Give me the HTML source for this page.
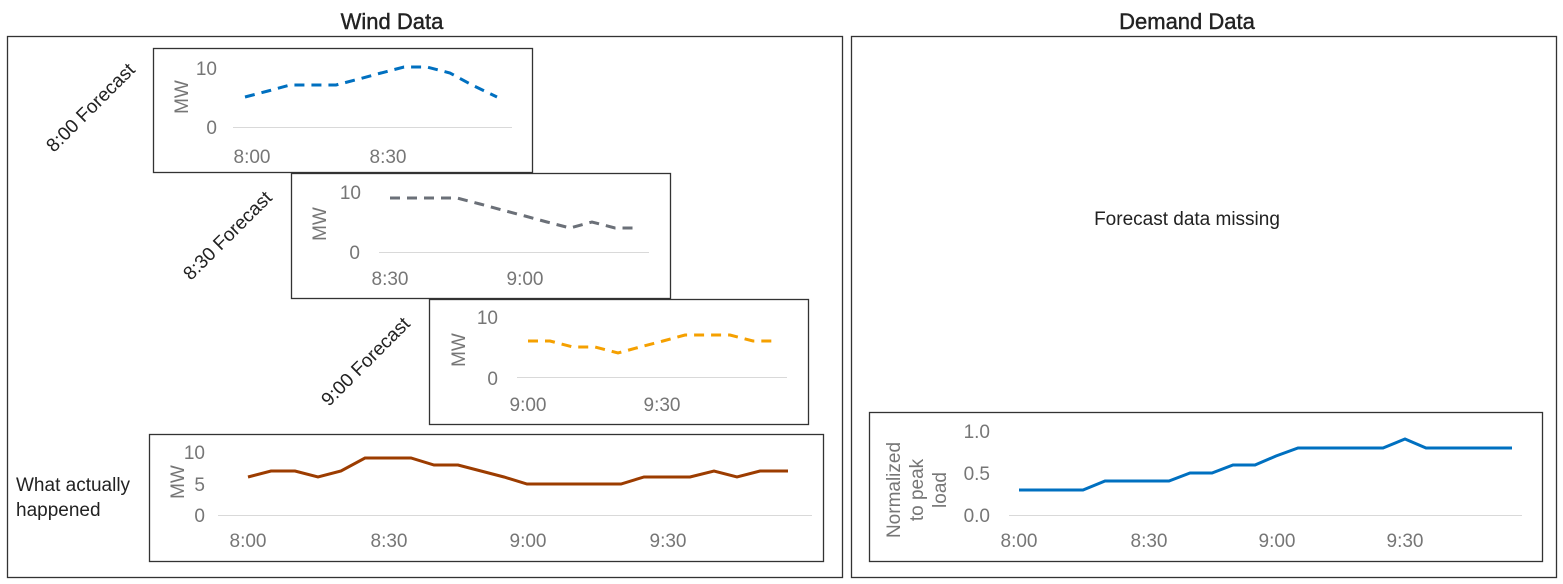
<!DOCTYPE html>
<html><head><meta charset="utf-8"><style>
html,body{margin:0;padding:0;background:#fff}
svg{display:block;font-family:"Liberation Sans",sans-serif}
.t{fill:#767676;font-size:19px}
.b{fill:#fff;stroke:#333;stroke-width:1.3}
.g{stroke:#d9d9d9;stroke-width:1}
</style></head><body>
<svg width="1563" height="584" viewBox="0 0 1563 584">
<text x="392" y="29" font-size="22" text-anchor="middle" fill="#222" stroke="#222" stroke-width="0.4">Wind Data</text>
<text x="1187" y="29" font-size="22" text-anchor="middle" fill="#222" stroke="#222" stroke-width="0.4">Demand Data</text>
<rect x="7.5" y="36.5" width="835" height="541" class="b"/>
<rect x="851.5" y="36.5" width="705" height="541" class="b"/>

<!-- chart1 -->
<rect x="153.5" y="48.5" width="379" height="124" class="b"/>
<line x1="233" y1="127.5" x2="512" y2="127.5" class="g"/>
<text x="217" y="75" class="t" text-anchor="end">10</text>
<text x="217" y="134" class="t" text-anchor="end">0</text>
<text x="188" y="97" class="t" text-anchor="middle" transform="rotate(-90 188 97)">MW</text>
<text x="252" y="163" class="t" text-anchor="middle">8:00</text>
<text x="388" y="163" class="t" text-anchor="middle">8:30</text>
<polyline fill="none" stroke="#0070c0" stroke-width="3" stroke-dasharray="10,7" points="245,97 268,91 290,85 313,85 336,85 359,79 381,73 404,67 427,67 450,73 472,85 497,97"/>
<text x="95" y="112" font-size="19" fill="#222" text-anchor="middle" transform="rotate(-45 95 112)">8:00 Forecast</text>

<!-- chart2 -->
<rect x="291.5" y="173.5" width="379" height="125" class="b"/>
<line x1="379" y1="252.5" x2="649" y2="252.5" class="g"/>
<text x="361" y="199" class="t" text-anchor="end">10</text>
<text x="360" y="259" class="t" text-anchor="end">0</text>
<text x="326" y="224" class="t" text-anchor="middle" transform="rotate(-90 326 224)">MW</text>
<text x="390" y="285" class="t" text-anchor="middle">8:30</text>
<text x="525" y="285" class="t" text-anchor="middle">9:00</text>
<polyline fill="none" stroke="#6b7078" stroke-width="3" stroke-dasharray="10,7" points="390,198 412,198 435,198 457,198 480,204 502,210 525,216 547,222 570,228 592,222 615,228 637,228"/>
<text x="232" y="240" font-size="19" fill="#222" text-anchor="middle" transform="rotate(-45 232 240)">8:30 Forecast</text>

<!-- chart3 -->
<rect x="429.5" y="299.5" width="379" height="125" class="b"/>
<line x1="517" y1="377.5" x2="787" y2="377.5" class="g"/>
<text x="498" y="324" class="t" text-anchor="end">10</text>
<text x="498" y="385" class="t" text-anchor="end">0</text>
<text x="465" y="350" class="t" text-anchor="middle" transform="rotate(-90 465 350)">MW</text>
<text x="528" y="411" class="t" text-anchor="middle">9:00</text>
<text x="662" y="411" class="t" text-anchor="middle">9:30</text>
<polyline fill="none" stroke="#f5a000" stroke-width="3" stroke-dasharray="10,7" points="528,341 550,341 573,347 595,347 618,353 640,347 663,341 685,335 708,335 730,335 753,341 776,341"/>
<text x="370" y="366" font-size="19" fill="#222" text-anchor="middle" transform="rotate(-45 370 366)">9:00 Forecast</text>

<!-- chart4 -->
<rect x="149.5" y="434.5" width="674" height="127" class="b"/>
<line x1="218" y1="515.5" x2="812" y2="515.5" class="g"/>
<text x="205" y="459" class="t" text-anchor="end">10</text>
<text x="205" y="491" class="t" text-anchor="end">5</text>
<text x="205" y="522" class="t" text-anchor="end">0</text>
<text x="184" y="482" class="t" text-anchor="middle" transform="rotate(-90 184 482)">MW</text>
<text x="248" y="547" class="t" text-anchor="middle">8:00</text>
<text x="389" y="547" class="t" text-anchor="middle">8:30</text>
<text x="528" y="547" class="t" text-anchor="middle">9:00</text>
<text x="668" y="547" class="t" text-anchor="middle">9:30</text>
<polyline fill="none" stroke="#9c3c00" stroke-width="3" points="248,477 271,471 295,471 318,477 341,471 365,458 388,458 411,458 434,465 458,465 481,471 504,477 527,484 551,484 574,484 597,484 621,484 644,477 667,477 690,477 714,471 737,477 760,471 788,471"/>
<text x="16" y="491" font-size="19" fill="#222">What actually</text>
<text x="16" y="516" font-size="19" fill="#222">happened</text>

<!-- demand -->
<text x="1187" y="225" font-size="19" fill="#222" text-anchor="middle">Forecast data missing</text>
<rect x="869.5" y="412.5" width="673" height="149" class="b"/>
<line x1="1009" y1="515.5" x2="1522" y2="515.5" class="g"/>
<text x="990" y="438" class="t" text-anchor="end">1.0</text>
<text x="990" y="480" class="t" text-anchor="end">0.5</text>
<text x="990" y="522" class="t" text-anchor="end">0.0</text>
<g transform="rotate(-90 917 490)">
<text x="917" y="490" class="t" text-anchor="middle" dy="-17">Normalized</text>
<text x="917" y="490" class="t" text-anchor="middle" dy="6">to peak</text>
<text x="917" y="490" class="t" text-anchor="middle" dy="29">load</text>
</g>
<text x="1019" y="547" class="t" text-anchor="middle">8:00</text>
<text x="1149" y="547" class="t" text-anchor="middle">8:30</text>
<text x="1277" y="547" class="t" text-anchor="middle">9:00</text>
<text x="1405" y="547" class="t" text-anchor="middle">9:30</text>
<polyline fill="none" stroke="#0070c0" stroke-width="3" points="1019,490 1040,490 1062,490 1083,490 1105,481 1126,481 1148,481 1169,481 1190,473 1212,473 1233,465 1255,465 1276,456 1298,448 1319,448 1340,448 1362,448 1383,448 1405,439 1426,448 1448,448 1469,448 1490,448 1512,448"/>
</svg>
</body></html>
